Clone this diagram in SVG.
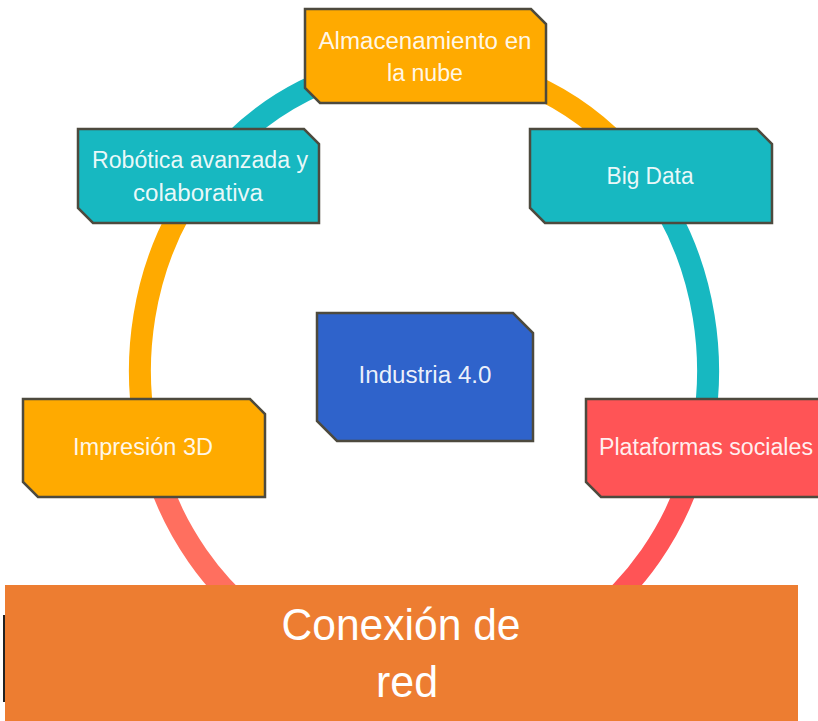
<svg xmlns="http://www.w3.org/2000/svg" width="818" height="721" viewBox="0 0 818 721">
<style>
.box{stroke:#4d4a3e;stroke-width:2.5;stroke-linejoin:miter}
.orange{fill:#FFAA00}
.teal{fill:#17B8C1}
.blue{fill:#2F63CB}
.red{fill:#FF5456}
.t{font-family:"Liberation Sans","DejaVu Sans",sans-serif;font-size:23.5px;fill:#ffffff;fill-opacity:0.92;text-anchor:middle}
.ring{fill:none;stroke-width:22}
.big{font-family:"Liberation Sans","DejaVu Sans",sans-serif;font-size:44px;fill:#ffffff;text-anchor:middle}
</style>
<rect width="818" height="721" fill="#ffffff"/>
<g id="connectors">
<path class="ring" stroke="#17B8C1" d="M206.5 172 A284 308 0 0 1 424 62"/>
<path class="ring" stroke="#FFAA00" d="M424 62 A284 308 0 0 1 641.5 172"/>
<path class="ring" stroke="#17B8C1" d="M641.5 172 A284 308 0 0 1 690.9 475.3"/>
<path class="ring" stroke="#FF5456" d="M690.9 475.3 A284 308 0 0 1 424 678"/>
<path class="ring" stroke="#FF6F5F" d="M424 678 A284 308 0 0 1 157.1 475.3"/>
<path class="ring" stroke="#FFAA00" d="M157.1 475.3 A284 308 0 0 1 206.5 172"/>
</g>
<g id="almacenamiento">
<path class="box orange" d="M305 9 H531 L546 24 V103 H320 L305 88 Z"/>
<text class="t" x="425" y="49" textLength="213" lengthAdjust="spacingAndGlyphs">Almacenamiento en</text>
<text class="t" x="425" y="81" textLength="76" lengthAdjust="spacingAndGlyphs">la nube</text>
</g>
<g id="robotica">
<path class="box teal" d="M78 129 H304 L319 144 V223 H93 L78 208 Z"/>
<text class="t" x="200" y="168" textLength="216" lengthAdjust="spacingAndGlyphs">Robótica avanzada y</text>
<text class="t" x="198" y="201" textLength="130" lengthAdjust="spacingAndGlyphs">colaborativa</text>
</g>
<g id="bigdata">
<path class="box teal" d="M530 129 H757 L772 144 V223 H545 L530 208 Z"/>
<text class="t" x="650" y="184" textLength="87" lengthAdjust="spacingAndGlyphs">Big Data</text>
</g>
<g id="industria">
<path class="box blue" d="M317 313 H513 L533 333 V441 H337 L317 421 Z"/>
<text class="t" x="425" y="383" textLength="133" lengthAdjust="spacingAndGlyphs">Industria 4.0</text>
</g>
<g id="impresion">
<path class="box orange" d="M23 399 H250 L265 414 V497 H38 L23 482 Z"/>
<text class="t" x="143" y="455" textLength="140" lengthAdjust="spacingAndGlyphs">Impresión 3D</text>
</g>
<g id="plataformas">
<path class="box red" d="M586 399 H821 L836 414 V497 H601 L586 482 Z"/>
<text class="t" x="706" y="455" textLength="214" lengthAdjust="spacingAndGlyphs">Plataformas sociales</text>
</g>
<g id="conexion">
<line x1="4" y1="615" x2="4" y2="702" stroke="#222222" stroke-width="2"/>
<rect x="5" y="585" width="793" height="136" fill="#ED7D31"/>
<text class="big" x="401" y="640" textLength="239" lengthAdjust="spacingAndGlyphs">Conexión de</text>
<text class="big" x="407" y="697" textLength="62" lengthAdjust="spacingAndGlyphs">red</text>
</g>
</svg>
